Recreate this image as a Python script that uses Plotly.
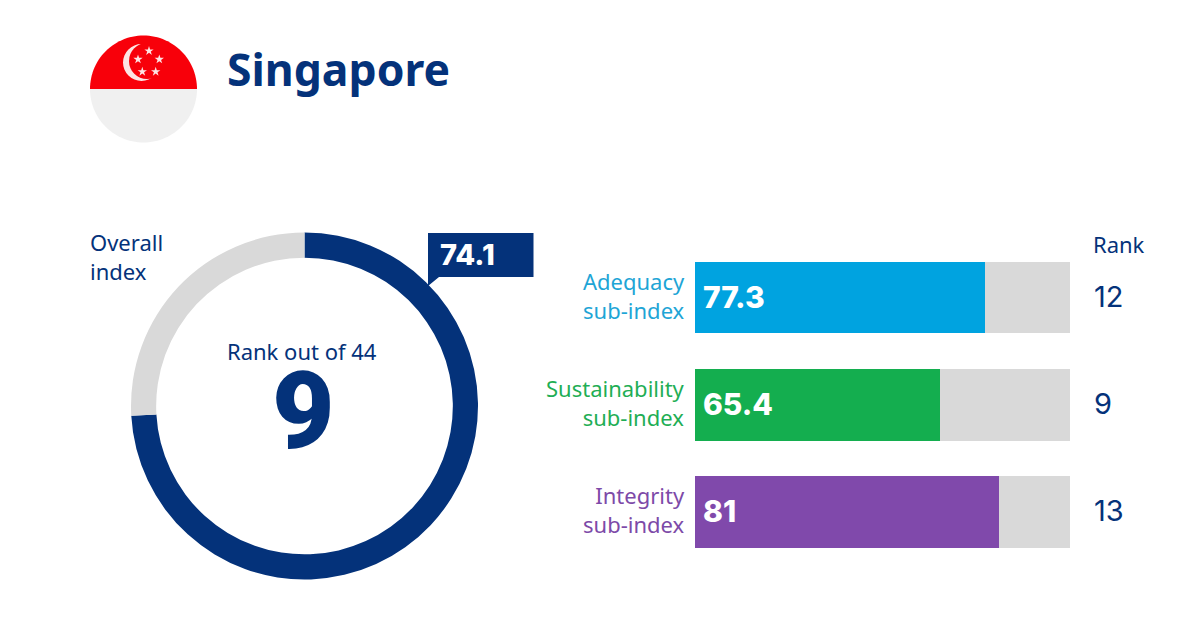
import math
import plotly.graph_objects as go

NAVY = '#04327a'
GREY = '#d9d9d9'
W, H = 1200, 630

country = 'Singapore'
overall_index = 74.1
overall_rank = 9
rank_out_of = 44

categories = ['Adequacy<br>sub-index', 'Sustainability<br>sub-index', 'Integrity<br>sub-index']
sub_values = [77.3, 65.4, 81]
sub_ranks = [12, 9, 13]
sub_colors = ['#00a3e0', '#14ae4f', '#8049ab']
sub_label_colors = ['#1ea5d6', '#1fae55', '#7d4aa8']

star_x = [149, 138, 159.3, 142.3, 155.7]
star_y = [51, 59.3, 59.3, 71.7, 71.7]

fig = go.Figure()

# overall index ring
fig.add_trace(go.Pie(values=[overall_index, 100 - overall_index],
                     domain=dict(x=[131 / W, 478 / W], y=[1 - 579.5 / H, 1 - 232.5 / H]),
                     hole=0.855,
                     sort=False,
                     direction='clockwise',
                     rotation=0,
                     textinfo='none',
                     marker=dict(colors=[NAVY, GREY], line=dict(width=0)),
                     showlegend=False))

# sub-index bars, grey part is whatever is left up to 100
fig.add_trace(go.Bar(y=list(range(3)),
                     x=sub_values,
                     orientation='h',
                     marker=dict(color=sub_colors, line=dict(width=0)),
                     showlegend=False))
fig.add_trace(go.Bar(y=list(range(3)),
                     x=[100 - v for v in sub_values],
                     orientation='h',
                     marker=dict(color=GREY, line=dict(width=0)),
                     showlegend=False))

# flag stars on the pixel axes
fig.add_trace(go.Scatter(x=star_x,
                         y=star_y,
                         mode='markers',
                         marker=dict(symbol='star', size=7, color='#fde4e4', line=dict(width=0)),
                         xaxis='x2',
                         yaxis='y2',
                         showlegend=False))


def half_disc(cx, cy, r, top):
    sign = -1 if top else 1
    pts = [(cx + r * math.cos(math.pi * i / 60), cy + sign * r * math.sin(math.pi * i / 60)) for i in range(61)]
    return 'M ' + ' L '.join(f'{x:.2f} {y:.2f}' for x, y in pts) + ' Z'


shapes = [
    dict(type='path', xref='x2', yref='y2', layer='below', line=dict(width=0), fillcolor='#f0f0f0',
         path=half_disc(143.5, 89, 53.5, False)),
    dict(type='path', xref='x2', yref='y2', layer='below', line=dict(width=0), fillcolor='#f8000a',
         path=half_disc(143.5, 89, 53.5, True)),
    dict(type='circle', xref='x2', yref='y2', layer='below', line=dict(width=0), fillcolor='#fde4e4',
         x0=123, x1=160, y0=44, y1=81),
    dict(type='circle', xref='x2', yref='y2', layer='below', line=dict(width=0), fillcolor='#f8000a',
         x0=129, x1=165, y0=43, y1=79),
    # callout for the overall value
    dict(type='path', xref='x2', yref='y2', line=dict(width=0), fillcolor=NAVY,
         path='M 428 233 L 533.5 233 L 533.5 277 L 439 277 L 428 286 Z'),
]

annotations = []


def add_text(x, y, text, size, color=NAVY, family='Noto Sans', weight=400, anchor='left'):
    annotations.append(dict(x=x, y=y, xref='x2', yref='y2', text=text, showarrow=False,
                            xanchor=anchor, yanchor='middle', align=anchor,
                            font=dict(family=family, size=size, color=color, weight=weight)))


add_text(225, 68, country, 44.5, weight=700)
add_text(88, 256.5, 'Overall<br>index', 22)
add_text(302, 351, f'Rank out of {rank_out_of}', 22, anchor='center')
add_text(303, 411, str(overall_rank), 108, family='Roboto', weight=900, anchor='center')
add_text(438, 254, str(overall_index), 29, color='white', family='Inter', weight=800)
add_text(1091, 244, 'Rank', 22)

for i, label in enumerate(categories):
    annotations.append(dict(x=0, y=i, xref='x', yref='y', xshift=-8, yshift=2.5, text=label,
                            showarrow=False, xanchor='right', yanchor='middle', align='right',
                            font=dict(family='Noto Sans', size=22, color=sub_label_colors[i])))
    annotations.append(dict(x=0, y=i, xref='x', yref='y', xshift=6, yshift=1, text=str(sub_values[i]), showarrow=False,
                            xanchor='left', yanchor='middle', align='left',
                            font=dict(family='Inter', size=30, color='white', weight=800)))
    annotations.append(dict(x=100, y=i, xref='x', yref='y', xshift=22, yshift=1, text=str(sub_ranks[i]), showarrow=False,
                            xanchor='left', yanchor='middle', align='left',
                            font=dict(family='Inter', size=29, color=NAVY, weight=400)))

fig.update_layout(width=W,
                  height=H,
                  margin=dict(l=0, r=0, t=0, b=0),
                  paper_bgcolor='white',
                  plot_bgcolor='rgba(0,0,0,0)',
                  barmode='stack',
                  bargap=0.329,
                  hovermode=False,
                  shapes=shapes,
                  annotations=annotations,
                  xaxis=dict(domain=[695 / W, 1070 / W], range=[0, 100], visible=False, fixedrange=True),
                  yaxis=dict(domain=[1 - 565.6 / H, 1 - 243.9 / H], range=[2.5, -0.5], visible=False, fixedrange=True),
                  xaxis2=dict(domain=[0, 1], range=[0, W], visible=False, fixedrange=True, anchor='y2'),
                  yaxis2=dict(domain=[0, 1], range=[H, 0], visible=False, fixedrange=True, anchor='x2'))

# page body has a default 8px margin
fig.write_html('out.html', config=dict(displayModeBar=False), post_script="document.body.style.margin='0';")
